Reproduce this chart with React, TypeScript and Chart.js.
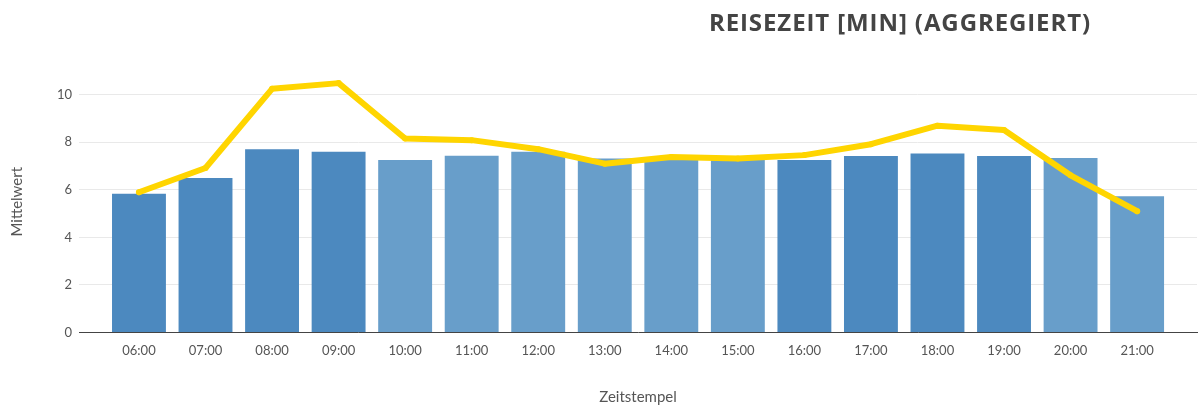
import React, { useEffect, useRef } from "react";
import { Chart, registerables } from "chart.js";

Chart.register(...registerables);

const categories = ["06:00", "07:00", "08:00", "09:00", "10:00", "11:00", "12:00", "13:00", "14:00", "15:00", "16:00", "17:00", "18:00", "19:00", "20:00", "21:00"];
const barValues = [5.83, 6.5, 7.71, 7.6, 7.25, 7.43, 7.6, 7.32, 7.25, 7.25, 7.25, 7.42, 7.53, 7.42, 7.34, 5.73];
const lineValues = [5.9, 6.92, 10.25, 10.49, 8.16, 8.09, 7.71, 7.1, 7.38, 7.32, 7.46, 7.92, 8.7, 8.52, 6.61, 5.1];
const peakHour = [true, true, true, true, false, false, false, false, false, false, true, true, true, true, false, false];
const yTicks = [0, 2, 4, 6, 8, 10];

const TITLE = "REISEZEIT [MIN] (AGGREGIERT)";
const DARK = "rgba(76,137,191,1)";
const LIGHT = "rgba(104,158,202,1)";

export default function App() {
  const ref = useRef<HTMLCanvasElement | null>(null);
  useEffect(() => {
    if (!ref.current) return;
    const chart = new Chart(ref.current, {
      type: "bar",
      data: {
        datasets: [
          {
            type: "line",
            data: lineValues.map((v, i) => ({ x: i, y: v })),
            borderColor: "#FFD500",
            backgroundColor: "#FFD500",
            borderWidth: 6,
            borderCapStyle: "round",
            borderJoinStyle: "round",
            pointRadius: 3,
            pointBorderWidth: 0,
            tension: 0,
            order: 0,
          } as any,
          {
            type: "bar",
            data: barValues.map((v, i) => ({ x: i, y: v })),
            backgroundColor: peakHour.map((p) => (p ? DARK : LIGHT)),
            borderWidth: 0,
            categoryPercentage: 0.9,
            barPercentage: 0.9,
            order: 1,
          } as any,
        ],
      },
      options: {
        animation: false,
        responsive: false,
        maintainAspectRatio: false,
        layout: { padding: { top: 71, right: 0, bottom: 0, left: 8 } },
        plugins: {
          legend: { display: false },
          tooltip: { enabled: false },
          title: { display: false },
        },
        scales: {
          x: {
            type: "linear",
            offset: false,
            min: -0.9,
            max: 15.9,
            grid: { display: false },
            border: { display: true, color: "#444", width: 1 },
            ticks: {
              stepSize: 1,
              includeBounds: false,
              autoSkip: false,
              maxRotation: 0,
              padding: 3,
              color: "#555",
              font: { family: "Lato", size: 13 },
              callback: (v: any) => {
                const n = Number(v);
                return Number.isInteger(n) && categories[n] ? categories[n] : "";
              },
            },
            title: {
              display: true,
              text: "Zeitstempel",
              color: "#555",
              font: { family: "Lato", size: 15 },
              padding: { top: 26, bottom: 2 },
            },
          },
          y: {
            type: "linear",
            min: 0,
            max: 11,
            afterBuildTicks: (axis: any) => {
              axis.ticks = yTicks.map((v) => ({ value: v }));
            },
            grid: { color: "#e9e9e9", drawTicks: false, lineWidth: 1 },
            border: { display: false },
            ticks: {
              padding: 7,
              color: "#555",
              font: { family: "Lato", size: 13 },
            },
            title: {
              display: true,
              text: "Mittelwert",
              color: "#555",
              font: { family: "Lato", size: 15 },
              padding: { top: 0, bottom: 24 },
            },
          },
        },
      } as any,
    });
    return () => chart.destroy();
  }, []);

  return (
    <div style={{ position: "fixed", left: 0, top: 0, width: 1201, height: 408, background: "#fff" }}>
      <div
        style={{
          position: "absolute",
          left: 600,
          width: 600,
          top: 7,
          textAlign: "center",
          fontFamily: "'Open Sans', sans-serif",
          fontWeight: 700,
          fontSize: 24,
          color: "#444",
          letterSpacing: 0.9,
          lineHeight: "30px",
        }}
      >
        {TITLE}
      </div>
      <canvas ref={ref} width={1201} height={408} style={{ display: "block" }} />
    </div>
  );
}
